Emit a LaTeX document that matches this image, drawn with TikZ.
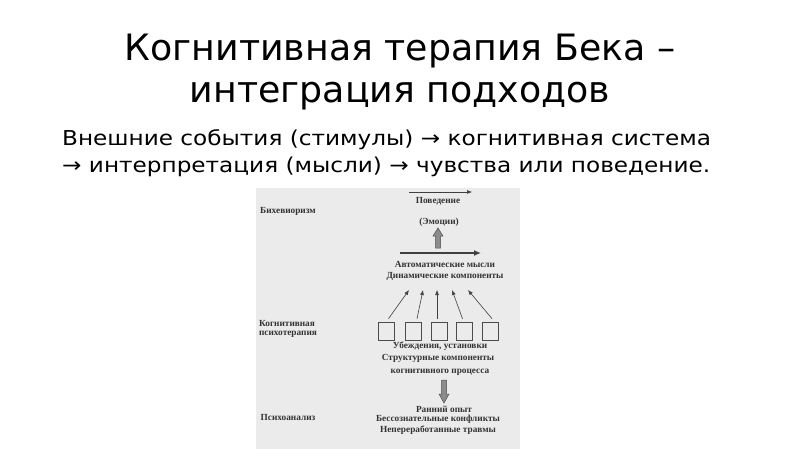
\documentclass[tikz,border=0pt]{standalone}
\usepackage{fontspec}
\setmainfont{DejaVu Sans}
\newfontfamily\bodyfont[FakeStretch=1.13]{DejaVu Sans}
\newfontfamily\scanfont{Liberation Serif}
\usetikzlibrary{arrows.meta}
\tikzset{
  title/.style={anchor=base, font=\fontsize{36.3}{40}\selectfont, text=black, inner sep=0pt},
  body/.style={anchor=base west, font=\bodyfont\fontsize{20.5}{24}\selectfont, text=black, inner sep=0pt},
  scan/.style={font=\scanfont\bfseries\fontsize{9.3}{10}\selectfont, text=black!80, inner sep=0pt, anchor=base},
  thin arrow/.style={draw=black!75, line width=0.6pt, -{Latex[length=5pt,width=4pt]}},
  long arrow/.style={draw=black!75, line width=1.3pt, -{Latex[length=7pt,width=6pt]}},
  cellbox/.style={draw=black!70, line width=0.6pt, minimum width=16pt, minimum height=18pt, inner sep=0pt},
  fat arrow/.style={draw=black!70, fill=black!45, line width=0.5pt},
}
\begin{document}
\begin{tikzpicture}[x=1pt,y=-1pt]
\useasboundingbox (0,0) rectangle (800,449);
\fill[white] (0,0) rectangle (800,449);
% scanned page background
\fill[black!8] (256,188) rectangle (520,449);

% title and text
\node[title] (t1) at (400,61) {Когнитивная терапия Бека –};
\node[title] (t2) at (400,103) {интеграция подходов};
\node[body] (b1) at (62,146) {Внешние события (стимулы) → когнитивная система};
\node[body] (b2) at (62,173) {→ интерпретация (мысли) → чувства или поведение.};

% diagram
\coordinate (pa) at (409,192);
\coordinate (pb) at (472,192);
\draw[thin arrow] (pa) -- (pb);
\node[scan] (beh) at (438,204) {Поведение};
\node[scan] (bih) at (288,214) {Бихевиоризм};
\node[scan] (emo) at (439,225) {(Эмоции)};
\fill[fat arrow] (435.5,248) -- (435.5,236) -- (433,236) -- (438,228) -- (443,236) -- (440.5,236) -- (440.5,248) -- cycle;
\coordinate (la) at (400,253);
\coordinate (lb) at (481,253);
\draw[long arrow] (la) -- (lb);
\node[scan] (auto) at (445,267) {Автоматические мысли};
\node[scan] (dyn) at (445,278) {Динамические компоненты};

\node[cellbox] (c1) at (386.5,331) {};
\node[cellbox] (c2) at (413,331) {};
\node[cellbox] (c3) at (439,331) {};
\node[cellbox] (c4) at (464.5,331) {};
\node[cellbox] (c5) at (490,331) {};
\coordinate (h1) at (409,290);
\coordinate (h2) at (423,290);
\coordinate (h3) at (437,290);
\coordinate (h4) at (452,290);
\coordinate (h5) at (468,290);
\draw[thin arrow] (c1.north) ++(2,-3) -- (h1);
\draw[thin arrow] (c2.north) ++(4,-3) -- (h2);
\draw[thin arrow] (c3.north) ++(-2,-3) -- (h3);
\draw[thin arrow] (c4.north) ++(-2,-3) -- (h4);
\draw[thin arrow] (c5.north) ++(2,-3) -- (h5);

\node[scan] (kog1) at (287,326) {Когнитивная};
\node[scan] (kog2) at (288,335) {психотерапия};
\node[scan] (ube) at (440,348) {Убеждения, установки};
\node[scan] (str) at (438,360) {Структурные компоненты};
\node[scan] (kpr) at (440,373) {когнитивного процесса};

\fill[fat arrow] (441.5,380) -- (441.5,394) -- (439,394) -- (444,403) -- (449,394) -- (446.5,394) -- (446.5,380) -- cycle;
\node[scan] (ran) at (444,412) {Ранний опыт};
\node[scan] (psy) at (288,420) {Психоанализ};
\node[scan] (bes) at (438,421) {Бессознательные конфликты};
\node[scan] (nep) at (438,432) {Непереработанные травмы};
\end{tikzpicture}
\end{document}
